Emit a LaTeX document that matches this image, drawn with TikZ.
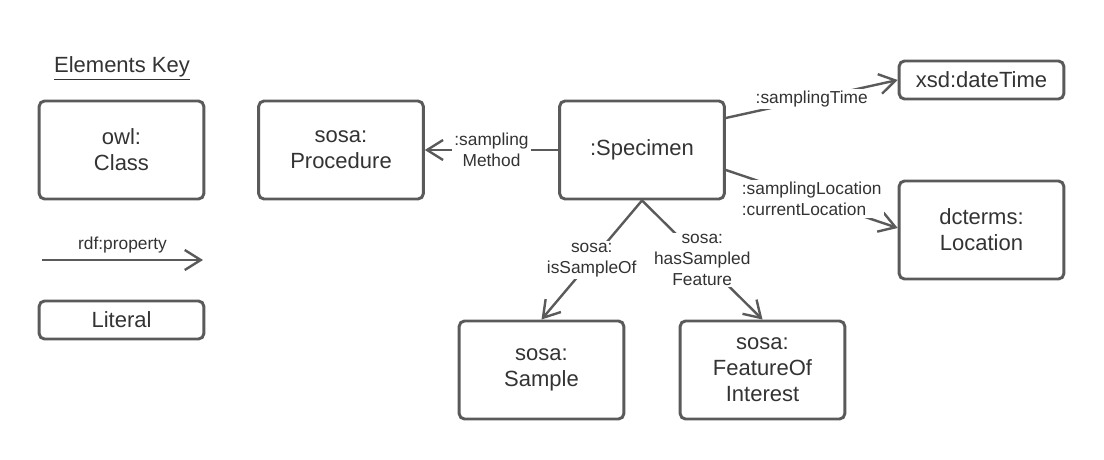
\documentclass[tikz,border=0pt]{standalone}
\usepackage{fontspec}
\setmainfont{Liberation Sans}
\usetikzlibrary{arrows.meta}
\definecolor{linegray}{HTML}{5A5A5A}
\definecolor{textgray}{HTML}{333333}
\tikzset{
  box/.style={draw=linegray, line width=2.2pt, rounded corners=4pt, align=center,
    text=textgray, font=\fontsize{16.5}{19.5}\selectfont,
    minimum width=123.5pt, minimum height=73.5pt, inner sep=0pt},
  litbox/.style={box, minimum height=28.5pt},
  conn/.style={draw=linegray, line width=1.8pt, -{Straight Barb[length=12pt,width=15pt]}},
  lbl/.style={fill=white, font=\fontsize{13}{15.5}\selectfont, text=textgray,
    inner sep=1.5pt, align=center},
  keytitle/.style={font=\fontsize{16.5}{19.5}\selectfont, text=textgray, inner sep=0pt}
}
\begin{document}
\begin{tikzpicture}[x=0.75pt, y=-0.75pt]
\useasboundingbox (0,0) rectangle (1104,460);
% key
\node[keytitle] (keyt) at (122,68) {\underline{Elements Key}};
\node[box] (owl) at (121.5,150) {owl:\\Class};
\coordinate (k1) at (42,260);
\coordinate (k2) at (203,260);
\draw[conn] (k1) -- node[lbl, above=3pt, fill=none] (kl) {rdf:property} (k2);
\node[litbox] (lit) at (121.5,320) {Literal};
% main
\node[box] (proc) at (341,150) {sosa:\\Procedure};
\node[box] (spec) at (642,150) {:Specimen};
\node[litbox] (xsd) at (981.5,80) {xsd:dateTime};
\node[box] (loc) at (981.5,230) {dcterms:\\Location};
\node[box] (samp) at (541.5,370) {sosa:\\Sample};
\node[box] (foi) at (762.5,370) {sosa:\\FeatureOf\\Interest};
% connectors
\draw[conn] (spec.west) -- node[lbl] (l1) {:sampling\\Method} (proc.east);
\draw[conn] ([yshift=24pt]spec.east) -- node[lbl] (l2) {:samplingTime} (xsd.west);
\draw[conn] ([yshift=-15pt]spec.east) -- node[lbl, align=left] (l3) {:samplingLocation\\:currentLocation} ([yshift=1.5pt]loc.west);
\draw[conn] (spec.south) -- node[lbl] (l4) {sosa:\\isSampleOf} (samp.north);
\draw[conn] (spec.south) -- node[lbl] (l5) {sosa:\\hasSampled\\Feature} (foi.north);
\end{tikzpicture}
\end{document}
